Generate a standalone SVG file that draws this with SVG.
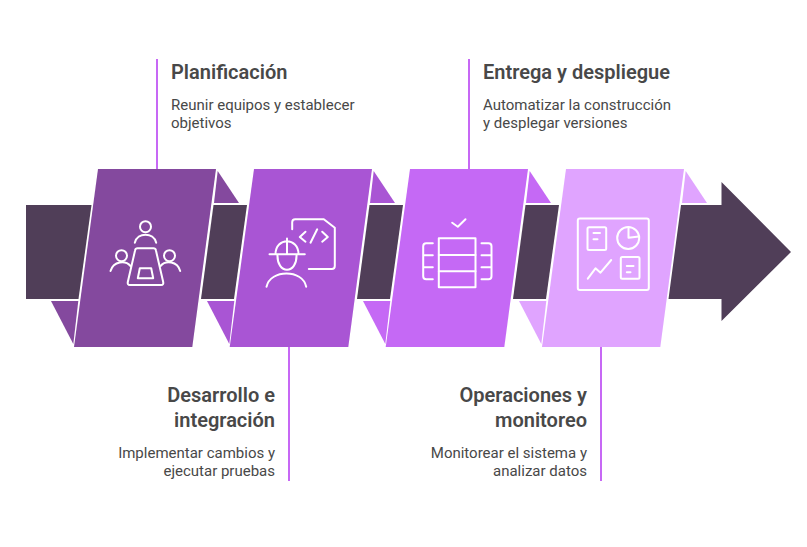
<svg xmlns="http://www.w3.org/2000/svg" width="807" height="547" viewBox="0 0 807 547">
<style>
.t{font-family:Roboto,"Liberation Sans",sans-serif;font-size:20px;font-weight:600;fill:#484848}
.b{font-family:Roboto,"Liberation Sans",sans-serif;font-size:15px;font-weight:400;fill:#484848}
.e{text-anchor:end}
.i{fill:none;stroke:#fff;stroke-width:2;stroke-linecap:round;stroke-linejoin:round}
.d{fill:#503e58}
.l{stroke:#c768f5;stroke-width:2;fill:none}
</style>
<rect width="807" height="547" fill="#fff"/>
<g id="band">
<path class="d" d="M26 205H91.500L78.500 299H26Z"/>
<path class="d" d="M213.500 205H247L234 299H201Z"/>
<path class="d" d="M369.500 205H403L390 299H357Z"/>
<path class="d" d="M525.500 205H559L546 299H513Z"/>
<path class="d" d="M681 205H721.500V182L791 252L721.500 321V299H668.500Z"/>
</g>
<g id="connectors">
<path class="l" d="M157 59V169"/>
<path class="l" d="M289 347V481"/>
<path class="l" d="M469 59V169"/>
<path class="l" d="M601 347V481"/>
</g>
<g id="node1">
<path fill="#84499e" d="M51 301H78.300L73.300 344Z"/>
<path fill="#84499e" d="M217.700 171L239 203H214Z"/>
<path fill="#84499e" d="M98 169H216L192.300 347H74Z"/>
<g class="i" transform="translate(.5 0)">
<circle cx="145" cy="226.700" r="5.500"/>
<path d="M134.300 242.700C137 232 153 232 155.700 242.700"/>
<circle cx="121" cy="255.700" r="5.500"/>
<path d="M110 271C113 261 125 260 130 266"/>
<circle cx="169" cy="255.700" r="5.500"/>
<path d="M160 266C165 260 177 261 179.700 271"/>
<path d="M137 248.300H153Q155 248.300 155.400 250.300L162.700 282Q163.200 285 160.700 285H129.300Q126.800 285 127.300 282L134.600 250.300Q135 248.300 137 248.300Z"/>
<path d="M139.300 268.300H150.700L152.700 278.300H137.300Z"/>
</g>
<text class="t" x="171" y="79">Planificación</text>
<text class="b" x="171" y="110">Reunir equipos y establecer</text>
<text class="b" x="171" y="128">objetivos</text>
</g>
<g id="node2">
<path fill="#a955d4" d="M207 301H234.300L229.300 344Z"/>
<path fill="#a955d4" d="M373.700 171L395 203H370Z"/>
<path fill="#a955d4" d="M254 169H372L348.300 347H229.700Z"/>
<g class="i" transform="translate(.5 0)">
<path d="M291.700 229.300V222.300Q291.700 219.300 294.700 219.300H323.300L334.300 227.700V266Q334.300 269 331.300 269H308.300"/>
<path d="M305 231.700L299.300 237L305 241.700M316.700 229.300L310 242.700M321.700 231.700L327.300 237L321.700 241.700"/>
<path d="M269 254.300H304.300M286.500 238.500V254.300M275 254.300C275 237 298 237 298 254.300M277 254.300C276 275 297 275 296 254.300"/>
<path d="M266 286.700C270 269 302 269 305.700 286.700"/>
</g>
<text class="t e" x="275" y="402">Desarrollo e</text>
<text class="t e" x="275" y="427">integración</text>
<text class="b e" x="275" y="458">Implementar cambios y</text>
<text class="b e" x="275" y="476">ejecutar pruebas</text>
</g>
<g id="node3">
<path fill="#c569f5" d="M363 301H390.300L385.300 344Z"/>
<path fill="#c569f5" d="M529.700 171L551 203H526Z"/>
<path fill="#c569f5" d="M410 169H528L504.300 347H385.700Z"/>
<g class="i" transform="translate(.5 0)">
<path d="M451.700 222.700L457.300 226.700L465 219.300"/>
<rect x="438.300" y="238.300" width="36.700" height="49"/>
<path d="M438.300 255H475M438.300 271.300H475"/>
<path d="M432.300 243.300H425.700Q422.700 243.300 422.700 246.300V276.300Q422.700 279.300 425.700 279.300H432.300M422.700 255.300H432.300M422.700 267.300H432.300"/>
<path d="M481 243.300H488Q491 243.300 491 246.300V276.300Q491 279.300 488 279.300H481M481 255.300H491M481 267.300H491"/>
</g>
<text class="t" x="483" y="79">Entrega y despliegue</text>
<text class="b" x="483" y="110">Automatizar la construcción</text>
<text class="b" x="483" y="128">y desplegar versiones</text>
</g>
<g id="node4">
<path fill="#e0a4ff" d="M519 301H546.300L541.300 344Z"/>
<path fill="#e0a4ff" d="M685.700 171L707 203H682Z"/>
<path fill="#e0a4ff" d="M566 169H684L660.300 347H542Z"/>
<g class="i" transform="translate(.5 0)">
<rect x="577.300" y="218.500" width="71" height="71.500" rx="2"/>
<rect x="587" y="227.300" width="18.700" height="22.700" rx="1.500"/>
<path d="M593 233H599.500M593 239.300H597"/>
<circle cx="627.700" cy="238" r="11"/>
<path d="M628 227V237.800L638.500 236.500"/>
<rect x="620.300" y="257" width="18.700" height="21.700" rx="1.500"/>
<path d="M626.300 266H633M626.300 272.300H630"/>
<path d="M587.300 278.700L595 268.300L600 272.700L610.700 260"/>
</g>
<text class="t e" x="587" y="402">Operaciones y</text>
<text class="t e" x="587" y="427">monitoreo</text>
<text class="b e" x="587" y="458">Monitorear el sistema y</text>
<text class="b e" x="587" y="476">analizar datos</text>
</g>
</svg>
